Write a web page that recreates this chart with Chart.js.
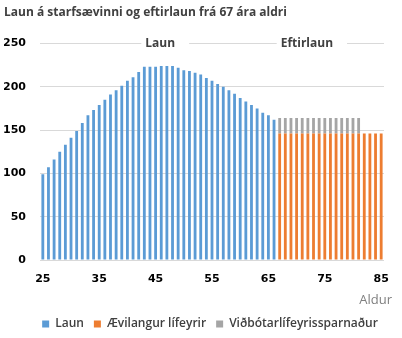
<!DOCTYPE html>
<html><head><meta charset="utf-8">
<script src="https://cdn.jsdelivr.net/npm/chart.js@4/dist/chart.umd.min.js"></script>
<style>html,body{margin:0;padding:0;background:#fff}#w{width:402px;height:338px}</style>
</head><body><div id="w"><canvas id="c"></canvas></div>
<script>
const ages = [];
for (let a = 25; a <= 85; a++) ages.push(a);
const laun = [99,107,116,125,133,141,149,158,167,173,179,185,191,196,201,207,211,217,223,223,223,224,224,224,222,219,218,216,214,210,207,203,200,196,192,187,183,179,175,170,167,162];
const aevilangur = [146,146,146,146,146,146,146,146,146,146,146,146,146,146,146,146,146,146,146];
const vidbotar = [18,18,18,18,18,18,18,18,18,18,18,18,18,18,18];
const yTicks = [0,50,100,150,200,250];
const xTickLabels = [25,35,45,55,65,75,85];
const xAxisTitle = 'Aldur';
const annotations = [{text:'Laun', age:43, value:250},{text:'Eftirlaun', age:67, value:250}];

const nL = laun.length;
const launData = ages.map((a,i)=> i < nL ? laun[i] : null);
const aevData = ages.map((a,i)=> i >= nL && i-nL < aevilangur.length ? aevilangur[i-nL] : null);
const vidData = ages.map((a,i)=> i >= nL && i-nL < vidbotar.length ? vidbotar[i-nL] : null);

const FONT = '"Open Sans", sans-serif';
const TICKFONT = '"DejaVu Sans", sans-serif';
const annPlugin = {
  id:'ann',
  afterLayout(chart){
    const lg = chart.legend;
    if (lg) { lg.left += 7; lg.right += 7; }
  },
  afterDatasetsDraw(chart){
    const ctx = chart.ctx, x = chart.scales.x, y = chart.scales.y;
    ctx.save();
    ctx.font = 'bold 12px ' + FONT;
    ctx.textAlign = 'left'; ctx.textBaseline = 'middle';
    annotations.forEach(an=>{
      const px = x.getPixelForValue(ages.indexOf(an.age)) + 1;
      const py = y.getPixelForValue(an.value);
      const w = ctx.measureText(an.text).width;
      ctx.fillStyle = '#fff';
      ctx.fillRect(px - 4, py - 8, w + 18, 16);
      ctx.fillStyle = '#404040';
      ctx.fillText(an.text, px, py);
    });
    ctx.font = '13px ' + FONT;
    ctx.fillStyle = '#7F7F7F';
    ctx.textAlign = 'right';
    ctx.fillText(xAxisTitle, x.right + 8, x.bottom - 8);
    ctx.restore();
  }
};

new Chart(document.getElementById('c'), {
  type:'bar',
  data:{
    labels: ages,
    datasets:[
      {label:'Laun', data:launData, backgroundColor:'#5B9BD5', barPercentage:0.5, categoryPercentage:1},
      {label:'Ævilangur lífeyrir', data:aevData, backgroundColor:'#ED7D31', barPercentage:0.5, categoryPercentage:1},
      {label:'Viðbótarlífeyrissparnaður', data:vidData, backgroundColor:'#A5A5A5', barPercentage:0.5, categoryPercentage:1}
    ]
  },
  plugins:[annPlugin],
  options:{
    responsive:true, maintainAspectRatio:false, animation:false,
    layout:{padding:{left:4,right:0,top:0,bottom:-2}},
    plugins:{
      title:{display:true, text:'Laun á starfsævinni og eftirlaun frá 67 ára aldri', align:'start',
        color:'#404040', font:{family:FONT, size:12, weight:'bold'}, padding:{top:5,bottom:24}},
      legend:{position:'bottom', labels:{boxWidth:7, boxHeight:7, color:'#404040', padding:10,
        font:{family:FONT, size:12, weight:'600'}}},
      tooltip:{enabled:false}
    },
    scales:{
      x:{stacked:true,
        grid:{display:false, drawTicks:false},
        border:{display:false},
        afterFit:(s)=>{s.height = 48;},
        ticks:{autoSkip:false, maxRotation:0, color:'#000', font:{family:TICKFONT, size:11, weight:'bold'}, padding:13,
          callback:(v,i)=> xTickLabels.includes(ages[i]) ? String(ages[i]) : ''}
      },
      y:{stacked:true, min:0, max:250,
        afterBuildTicks:(s)=>{s.ticks = yTicks.map(v=>({value:v}));},
        afterFit:(s)=>{s.width = 36;},
        grid:{color:'#D9D9D9', lineWidth:1, drawTicks:false},
        border:{display:false},
        ticks:{color:'#000', font:{family:TICKFONT, size:11, weight:'bold'}, padding:14}
      },
      y2:{position:'right', display:true, min:0, max:1,
        afterFit:(s)=>{s.width = 18;},
        grid:{display:false, drawTicks:false}, border:{display:false}, ticks:{display:false}
      }
    }
  }
});
</script></body></html>
